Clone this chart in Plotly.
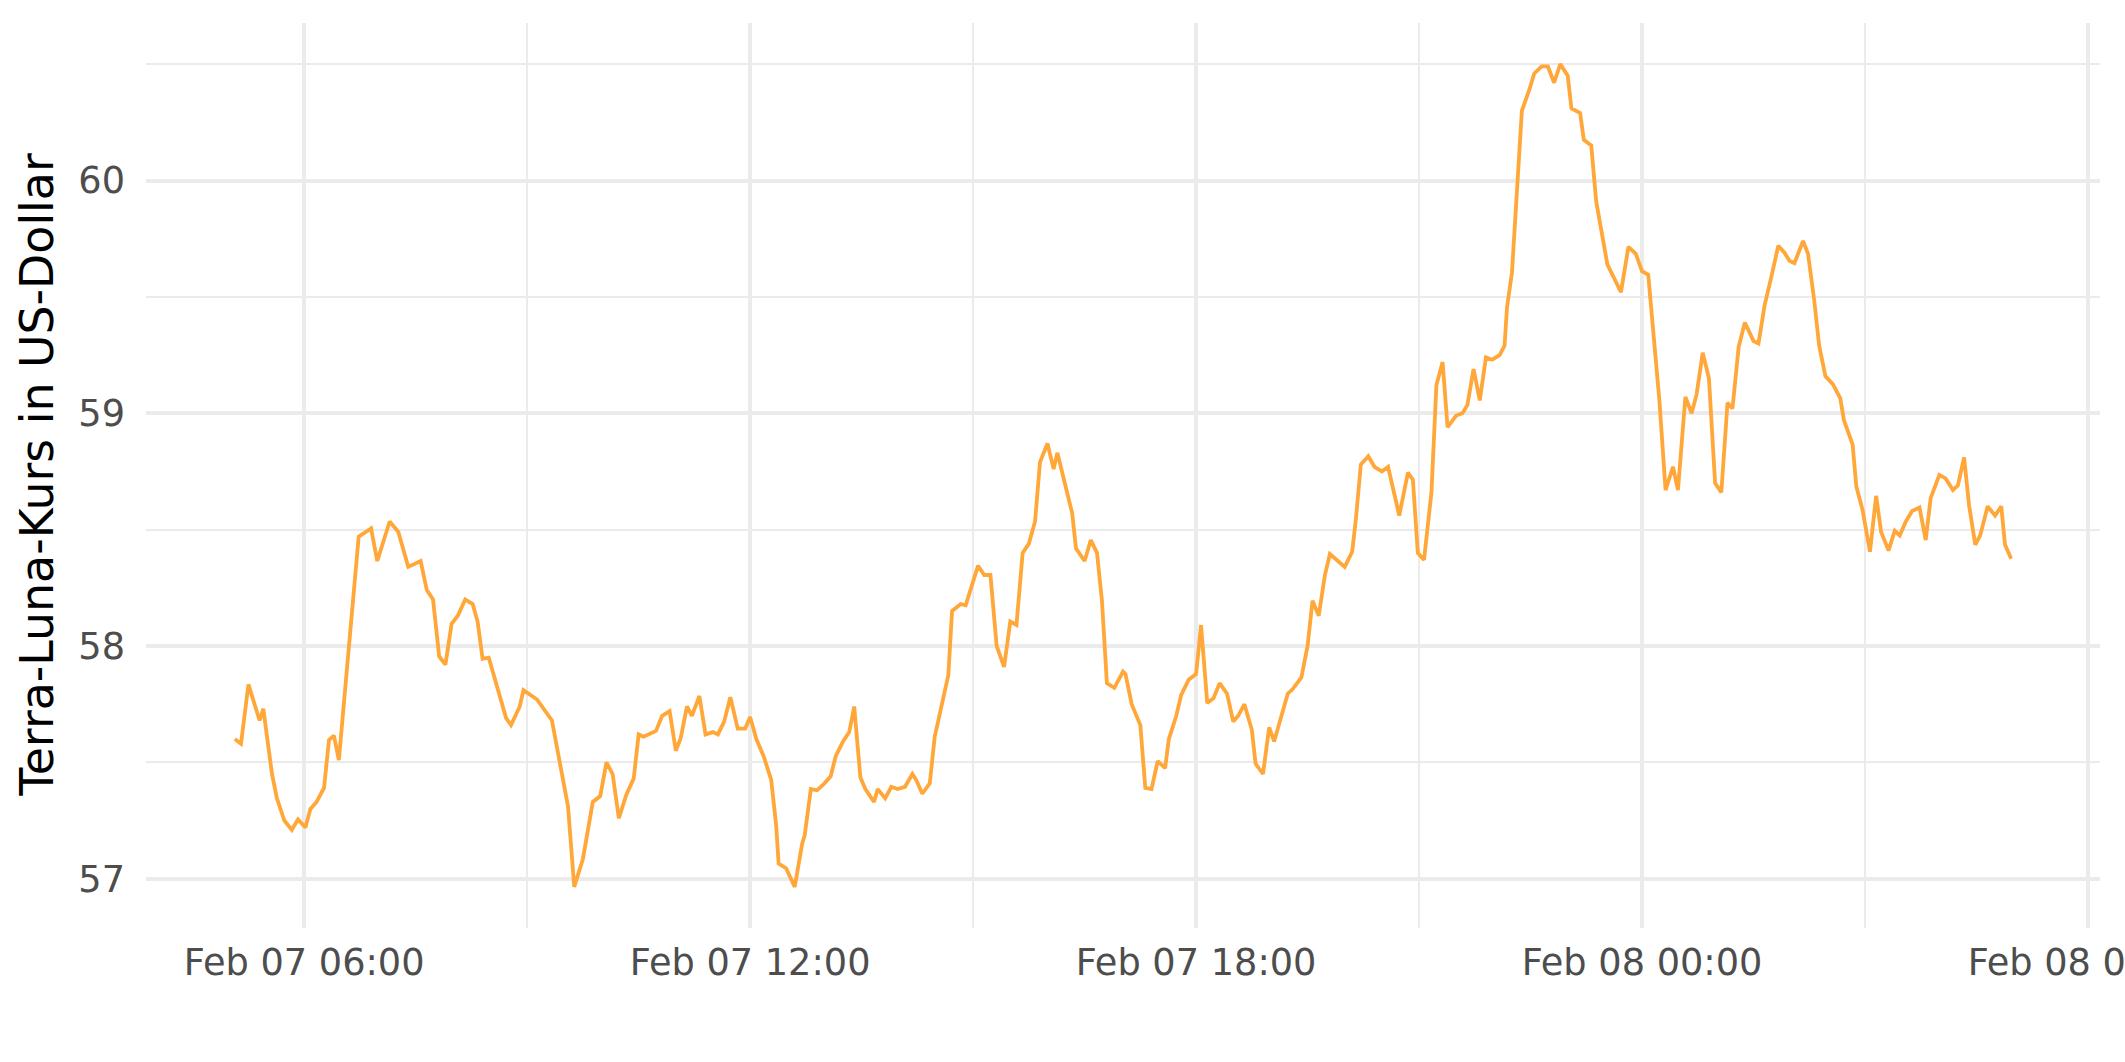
import plotly.graph_objects as go
import pandas as pd

# ---- data ----
clock_feb07 = [
    "05:04", "05:09", "05:15", "05:24", "05:27", "05:34", "05:38", "05:44", "05:50", "05:55",
    "06:01", "06:05", "06:10", "06:16", "06:20", "06:24", "06:28", "06:44", "06:54", "06:59",
    "07:09", "07:16", "07:24", "07:34", "07:39", "07:44", "07:49", "07:54", "07:59", "08:04",
    "08:10", "08:16", "08:20", "08:24", "08:29", "08:43", "08:47", "08:54", "08:57", "09:08",
    "09:20", "09:33", "09:38", "09:45", "09:53", "09:59", "10:04", "10:09", "10:14", "10:20",
    "10:26", "10:30", "10:34", "10:44", "10:49", "10:55", "11:00", "11:04", "11:09", "11:13",
    "11:19", "11:24", "11:30", "11:34", "11:39", "11:44", "11:50", "11:56", "12:00", "12:05",
    "12:11", "12:17", "12:21", "12:23", "12:29", "12:36", "12:42", "12:44", "12:49", "12:54",
    "13:00", "13:05", "13:09", "13:15", "13:20", "13:24", "13:29", "13:33", "13:40", "13:43",
    "13:49", "13:54", "13:59", "14:05", "14:11", "14:14", "14:19", "14:25", "14:29", "14:35",
    "14:40", "14:43", "14:50", "14:54", "15:04", "15:09", "15:14", "15:19", "15:25", "15:30",
    "15:35", "15:40", "15:45", "15:50", "15:54", "16:00", "16:05", "16:08", "16:15", "16:20",
    "16:23", "16:30", "16:35", "16:40", "16:44", "16:48", "16:54", "17:01", "17:03", "17:08",
    "17:15", "17:19", "17:24", "17:29", "17:35", "17:38", "17:44", "17:48", "17:54", "18:00",
    "18:04", "18:09", "18:14", "18:19", "18:25", "18:30", "18:34", "18:39", "18:45", "18:48",
    "18:54", "18:59", "19:03", "19:08", "19:14", "19:18", "19:25", "19:30", "19:34", "19:39",
    "19:44", "19:48", "19:54", "20:00", "20:06", "20:09", "20:13", "20:19", "20:24", "20:30",
    "20:35", "20:44", "20:51", "20:55", "20:59", "21:04", "21:10", "21:14", "21:19", "21:23",
    "21:30", "21:35", "21:39", "21:44", "21:49", "21:54", "21:59", "22:05", "22:09", "22:11",
    "22:15", "22:19", "22:23", "22:29", "22:33", "22:39", "22:44", "22:49", "22:54", "23:00",
    "23:03", "23:10", "23:13", "23:19", "23:23", "23:32", "23:39", "23:43", "23:49", "23:55",
]
clock_feb08 = [
    "00:00", "00:05", "00:14", "00:19", "00:25", "00:29", "00:35", "00:40", "00:44", "00:49",
    "00:54", "00:59", "01:04", "01:09", "01:13", "01:18", "01:23", "01:30", "01:34", "01:39",
    "01:45", "01:50", "01:55", "01:59", "02:03", "02:10", "02:14", "02:19", "02:23", "02:28",
    "02:34", "02:40", "02:43", "02:50", "02:53", "02:58", "03:04", "03:09", "03:13", "03:19",
    "03:24", "03:28", "03:33", "03:38", "03:44", "03:49", "03:53", "04:00", "04:05", "04:11",
    "04:15", "04:20", "04:24", "04:29", "04:33", "04:39", "04:45", "04:50", "04:53", "04:58",
]
price_usd = [
    57.60, 57.58, 57.835, 57.68, 57.73, 57.45, 57.345, 57.25, 57.21, 57.255,
    57.22, 57.30, 57.33, 57.39, 57.595, 57.615, 57.51, 58.47, 58.505, 58.365,
    58.535, 58.49, 58.34, 58.365, 58.24, 58.20, 57.955, 57.92, 58.095, 58.13,
    58.20, 58.18, 58.105, 57.945, 57.95, 57.69, 57.66, 57.74, 57.81, 57.77,
    57.68, 57.31, 56.965, 57.085, 57.33, 57.355, 57.50, 57.45, 57.26, 57.36,
    57.43, 57.62, 57.61, 57.635, 57.70, 57.72, 57.55, 57.605, 57.74, 57.70,
    57.785, 57.62, 57.63, 57.62, 57.675, 57.78, 57.645, 57.645, 57.695, 57.60,
    57.525, 57.425, 57.23, 57.065, 57.045, 56.965, 57.15, 57.185, 57.385, 57.38,
    57.41, 57.44, 57.525, 57.59, 57.63, 57.74, 57.435, 57.385, 57.33, 57.385,
    57.345, 57.395, 57.385, 57.395, 57.45, 57.425, 57.365, 57.41, 57.61, 57.765,
    57.875, 58.15, 58.18, 58.175, 58.345, 58.305, 58.305, 58.00, 57.91, 58.105,
    58.09, 58.40, 58.44, 58.535, 58.79, 58.87, 58.76, 58.83, 58.67, 58.57,
    58.42, 58.365, 58.455, 58.40, 58.195, 57.84, 57.82, 57.89, 57.88, 57.75,
    57.66, 57.39, 57.385, 57.505, 57.475, 57.60, 57.70, 57.79, 57.855, 57.88,
    58.09, 57.755, 57.775, 57.84, 57.795, 57.675, 57.70, 57.75, 57.64, 57.495,
    57.45, 57.65, 57.59, 57.69, 57.795, 57.815, 57.865, 58.00, 58.195, 58.13,
    58.305, 58.395, 58.37, 58.34, 58.405, 58.545, 58.78, 58.815, 58.77, 58.75,
    58.77, 58.56, 58.745, 58.715, 58.40, 58.37, 58.66, 59.12, 59.22, 58.94,
    58.99, 59.00, 59.035, 59.19, 59.055, 59.24, 59.23, 59.25, 59.29, 59.455,
    59.605, 59.985, 60.30, 60.39, 60.46, 60.49, 60.49, 60.42, 60.50, 60.45,
    60.31, 60.29, 60.175, 60.15, 59.91, 59.64, 59.56, 59.52, 59.715, 59.685,
    59.61, 59.595, 59.055, 58.67, 58.77, 58.67, 59.07, 59.00, 59.08, 59.26,
    59.15, 58.70, 58.66, 59.045, 59.02, 59.285, 59.39, 59.31, 59.30, 59.465,
    59.60, 59.72, 59.69, 59.655, 59.645, 59.74, 59.685, 59.485, 59.29, 59.16,
    59.125, 59.065, 58.97, 58.865, 58.685, 58.585, 58.405, 58.645, 58.49, 58.41,
    58.495, 58.475, 58.535, 58.58, 58.595, 58.455, 58.635, 58.735, 58.72, 58.67,
    58.69, 58.81, 58.605, 58.435, 58.475, 58.60, 58.56, 58.60, 58.435, 58.375,
]
y_ticks = [57, 58, 59, 60]
y_title = "Terra-Luna-Kurs in US-Dollar"

# ---- build ----
times = pd.to_datetime(["2022-02-07 " + c for c in clock_feb07] +
                       ["2022-02-08 " + c for c in clock_feb08])

# ggplot-like 5% expansion
t0, t1 = times.min(), times.max()
tpad = (t1 - t0) * 0.05
ymin, ymax = min(price_usd), max(price_usd)
ypad = (ymax - ymin) * 0.05

GRID = "#EBEBEB"
TICKC = "#4D4D4D"
FONT = "DejaVu Sans"

fig = go.Figure(go.Scatter(
    x=times, y=price_usd, mode="lines",
    line=dict(color="#FFA739", width=3.8),
    hoverinfo="skip",
))

fig.update_layout(
    width=2125, height=1062,
    margin=dict(l=146, r=25, t=23, b=134, autoexpand=False),
    paper_bgcolor="white", plot_bgcolor="white",
    showlegend=False,
    font=dict(family=FONT, color=TICKC),
)

fig.update_xaxes(
    type="date",
    range=[t0 - tpad, t1 + tpad],
    tick0="2022-02-07 00:00", dtick=6 * 3600 * 1000,
    tickformat="%b %d %H:%M",
    showgrid=True, gridcolor=GRID, gridwidth=4.4,
    minor=dict(dtick=3 * 3600 * 1000, showgrid=True, gridcolor=GRID, gridwidth=2.2),
    zeroline=False, showline=False, ticks="",
    tickfont=dict(family=FONT, size=36.7, color=TICKC),
    ticklabelstandoff=9,
    ticklabeloverflow="allow",
    automargin=False,
)
fig.update_yaxes(
    range=[ymin - ypad, ymax + ypad],
    tickvals=y_ticks,
    showgrid=True, gridcolor=GRID, gridwidth=4.4,
    minor=dict(dtick=0.5, showgrid=True, gridcolor=GRID, gridwidth=2.2),
    zeroline=False, showline=False, ticks="",
    tickfont=dict(family=FONT, size=36.7, color=TICKC),
    ticklabelstandoff=20,
    automargin=False,
)

fig.add_annotation(
    text=y_title, textangle=-90,
    xref="paper", yref="paper", x=(36 - 146) / 1954, y=0.5,
    xanchor="center", yanchor="middle", showarrow=False,
    font=dict(family=FONT, size=45.8, color="black"),
)

fig.write_html(
    "out.html",
    config={"displayModeBar": False},
    post_script="document.body.style.margin='0';document.body.style.overflow='hidden';",
)
